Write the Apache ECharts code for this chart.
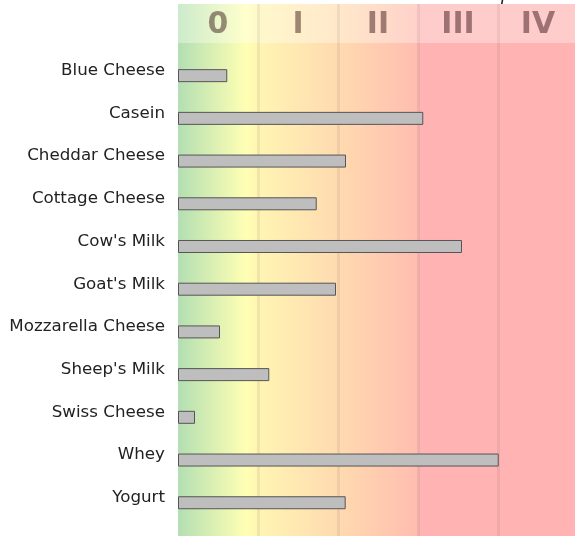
<!DOCTYPE html>
<html>
<head>
<meta charset="utf-8">
<script src="https://cdn.jsdelivr.net/npm/echarts@6/dist/echarts.min.js"></script>
<style>
html,body{margin:0;padding:0;background:#fff;overflow:hidden;}
#chart{width:575px;height:536px;}
</style>
</head>
<body>
<div id="chart"></div>
<script>
// ---- data ----
const categories = ['Blue Cheese', 'Casein', 'Cheddar Cheese', 'Cottage Cheese', "Cow's Milk", "Goat's Milk", 'Mozzarella Cheese', "Sheep's Milk", 'Swiss Cheese', 'Whey', 'Yogurt'];
const values = [0.616, 3.066, 2.10, 1.734, 3.55, 1.975, 0.525, 1.141, 0.2125, 4.009, 2.096];
const classLabels = ['0', 'I', 'II', 'III', 'IV'];

// ---- styling ----
const bodyGradient = {
  type: 'linear', x: 0, y: 0, x2: 1, y2: 0,
  colorStops: [
    { offset: 0, color: '#b3dfb3' },
    { offset: 0.17, color: '#ffffb3' },
    { offset: 0.2, color: '#fff5b3' },
    { offset: 0.4, color: '#ffdab0' },
    { offset: 0.6, color: '#ffbdb0' },
    { offset: 0.605, color: '#ffb3b3' },
    { offset: 1, color: '#ffb3b3' }
  ]
};
const headGradient = {
  type: 'linear', x: 0, y: 0, x2: 1, y2: 0,
  colorStops: [
    { offset: 0, color: '#ccebcc' },
    { offset: 0.17, color: '#ffffcc' },
    { offset: 0.2, color: '#fff8cc' },
    { offset: 0.4, color: '#ffe8ca' },
    { offset: 0.6, color: '#ffd1ca' },
    { offset: 0.605, color: '#ffcccc' },
    { offset: 1, color: '#ffcccc' }
  ]
};
const splitStyle = { show: true, showMinLine: false, showMaxLine: false, interval: 0, lineStyle: { color: 'rgba(0,0,0,0.06)', width: 3 } };

const chart = echarts.init(document.getElementById('chart'), null, { renderer: 'canvas' });
chart.setOption({
  animation: false,
  graphic: [{
    type: 'text', left: 501, top: -14, silent: true,
    style: { text: 'p', fontSize: 18, fontStyle: 'italic', fontFamily: 'DejaVu Sans', fill: '#222' }
  }],
  grid: [
    { left: 178, width: 400, top: 4, height: 39, show: true, borderWidth: 0, backgroundColor: headGradient, outerBoundsMode: 'none' },
    { left: 178, width: 400, top: 43, bottom: 0, show: true, borderWidth: 0, backgroundColor: bodyGradient, outerBoundsMode: 'none' },
    { left: 178, width: 400, top: 54.3, bottom: 11.9, outerBoundsMode: 'none' }
  ],
  xAxis: [
    {
      gridIndex: 0, type: 'category', data: classLabels, position: 'top',
      axisLine: { show: false }, axisTick: { show: false },
      axisLabel: { inside: true, margin: 6, fontSize: 30, fontWeight: 'bold', fontFamily: 'DejaVu Sans', color: 'rgba(40,5,5,0.45)', verticalAlign: 'top' },
      splitLine: splitStyle
    },
    {
      gridIndex: 1, type: 'category', data: classLabels,
      axisLine: { show: false }, axisTick: { show: false }, axisLabel: { show: false },
      splitLine: splitStyle
    },
    { gridIndex: 2, type: 'value', min: 0, max: 5, show: false }
  ],
  yAxis: [
    { gridIndex: 0, type: 'value', show: false },
    { gridIndex: 1, type: 'value', show: false },
    {
      gridIndex: 2, type: 'category', data: categories, inverse: true,
      axisLine: { show: false }, axisTick: { show: false }, splitLine: { show: false },
      axisLabel: { margin: 13, fontSize: 16.7, color: '#222', fontFamily: 'DejaVu Sans', verticalAlign: 'bottom', lineHeight: 10 }
    }
  ],
  series: [{
    type: 'bar', xAxisIndex: 2, yAxisIndex: 2, data: values, barWidth: 13, silent: true,
    itemStyle: { color: '#bebebe', borderColor: '#555', borderWidth: 1 }
  }]
});
</script>
</body>
</html>
